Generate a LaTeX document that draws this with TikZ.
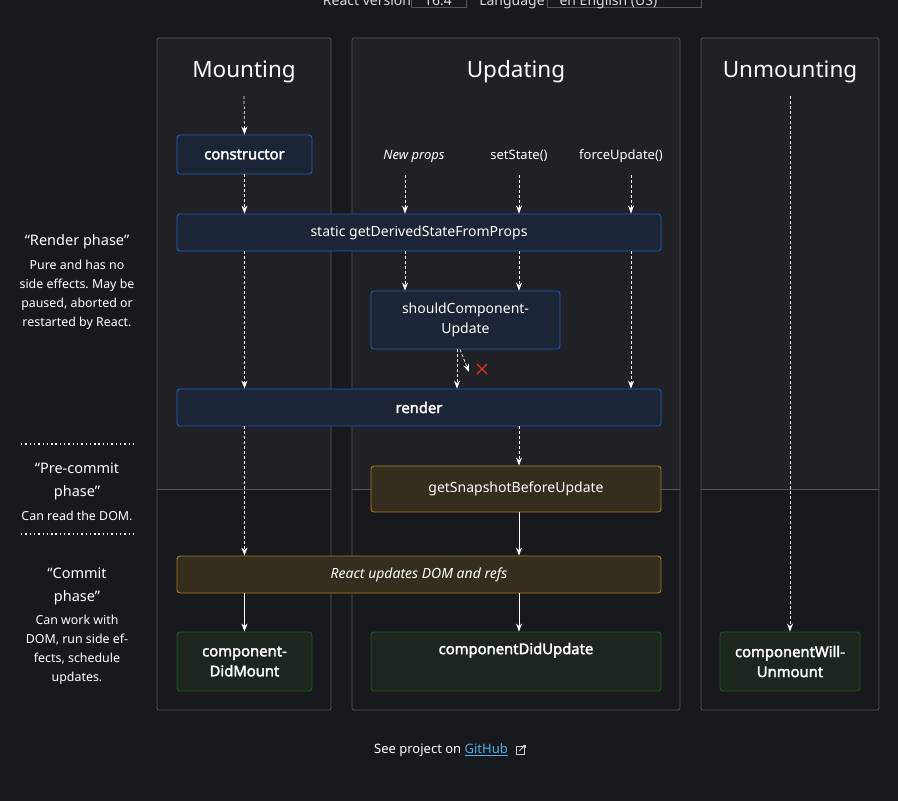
\documentclass[tikz,border=0pt]{standalone}
\usepackage{fontspec}
\setmainfont{Noto Sans}[AutoFakeBold=2.2]
\usetikzlibrary{arrows.meta}
\frenchspacing

\definecolor{pagebg}{HTML}{18191D}
\definecolor{panelbg}{HTML}{202126}
\definecolor{panelline}{HTML}{55565B}
\definecolor{fillblue}{HTML}{1B2536}
\definecolor{lineblue}{HTML}{1F5BB8}
\definecolor{fillbrown}{HTML}{352E1F}
\definecolor{linebrown}{HTML}{A67C1B}
\definecolor{fillgreen}{HTML}{1C261D}
\definecolor{linegreen}{HTML}{1D5A1D}
\definecolor{linkblue}{HTML}{4DB0E8}
\definecolor{crossred}{HTML}{E0321E}

\begin{document}
\begin{tikzpicture}[
  x=1pt, y=-1pt,
  >={Stealth[length=8pt,width=6pt]},
  text=white,
  font=\fontsize{14}{17}\selectfont,
  lifebox/.style={rounded corners=3pt, line width=0.9pt, inner sep=0pt, align=center},
  bluebox/.style={lifebox, fill=fillblue, draw=lineblue},
  brownbox/.style={lifebox, fill=fillbrown, draw=linebrown},
  greenbox/.style={lifebox, fill=fillgreen, draw=linegreen, font=\fontsize{14.8}{20}\selectfont\bfseries},
  coltitle/.style={font=\fontsize{22.5}{24}\selectfont},
  phasetitle/.style={align=center, font=\fontsize{14.5}{23}\selectfont},
  phasetext/.style={align=center, font=\fontsize{12.4}{19}\selectfont},
  flow/.style={->, white, dashed, dash pattern=on 3pt off 2pt, line width=0.7pt},
  firm/.style={->, white, line width=0.7pt},
  phasesep/.style={white, line width=1.4pt, dash pattern=on 1.4pt off 2.9pt}
]
  % Page
  \fill[pagebg] (0,0) rectangle (898,801);
  \useasboundingbox (0,0) rectangle (898,801);

  % Cut-off settings bar
  \begin{scope}
    \clip (0,0) rectangle (898,801);
    \node[anchor=base, text=white!85!black] (verlabel) at (367,5) {React version};
    \draw[panelline, line width=0.9pt] (411,-30) rectangle (466,7);
    \node[anchor=base, text=white!85!black] (vervalue) at (438,5) {16.4};
    \node[anchor=base, text=white!85!black] (langlabel) at (512,5) {Language};
    \draw[panelline, line width=0.9pt] (547,-30) rectangle (701,7);
    \node[anchor=base west, text=white!85!black] (langvalue) at (556,5) {en English (US)};
  \end{scope}

  % Columns
  \foreach \xa/\xb in {157/331, 352/680, 701/879} {
    \fill[panelbg, rounded corners=2pt] (\xa,38) -- (\xb,38) -- (\xb,489) -- (\xa,489) -- cycle;
    \draw[panelline, line width=0.8pt, rounded corners=2pt] (\xa,38) rectangle (\xb,710);
    \draw[panelline, line width=0.8pt] (\xa,489) -- (\xb,489);
  }
  \node[coltitle] (mounttitle) at (244,72) {Mounting};
  \node[coltitle] (updtitle) at (516,72) {Updating};
  \node[coltitle] (unmounttitle) at (790,72) {Unmounting};

  % Lifecycle methods
  \node[bluebox, minimum width=135, minimum height=39, font=\fontsize{14.8}{17}\selectfont\bfseries] (ctor) at (244.5,154.5) {constructor};
  \node[bluebox, minimum width=484, minimum height=37] (gdsfp) at (419,232.5) {static getDerivedStateFromProps};
  \node[bluebox, minimum width=189, minimum height=58, font=\fontsize{14}{20}\selectfont] (scu) at (465.5,320) {shouldComponent-\\Update};
  \node[bluebox, minimum width=484, minimum height=37, font=\fontsize{14.8}{17}\selectfont\bfseries] (render) at (419,407.5) {render};
  \node[brownbox, minimum width=290, minimum height=46] (gsbu) at (516,489) {getSnapshotBeforeUpdate};
  \node[brownbox, minimum width=484, minimum height=37, font=\fontsize{14}{17}\selectfont\itshape] (domrefs) at (419,574.5) {React updates DOM and refs};
  \node[greenbox, minimum width=135, minimum height=59] (cdm) at (244.5,661.5) {component-\\DidMount};
  \node[greenbox, minimum width=290, minimum height=59] (cdu) at (516,661.5) {componentDidUpdate\\\strut};
  \node[greenbox, minimum width=140, minimum height=59] (cwu) at (790,661.5) {componentWill-\\Unmount};

  % Update triggers
  \node[font=\fontsize{13}{17}\selectfont\itshape] (newprops) at (414,156) {New props};
  \node[font=\fontsize{13}{17}\selectfont] (setstate) at (519,156) {setState()};
  \node[font=\fontsize{13}{17}\selectfont] (forceupd) at (621,156) {forceUpdate()};
  \coordinate (mstart) at (244,96);
  \coordinate (ustart) at (790,96);
  \coordinate (npstart) at (405,175);
  \coordinate (ssstart) at (519,175);
  \coordinate (fustart) at (631,175);
  \coordinate (skipx) at (457,0);
  \coordinate (skipend) at (469,372);

  % Mounting flow
  \draw[flow] (mstart) -- (ctor.north);
  \draw[flow] (ctor.south) -- (ctor.south |- gdsfp.north);
  \draw[flow] (ctor.south |- gdsfp.south) -- (ctor.south |- render.north);
  \draw[flow] (ctor.south |- render.south) -- (ctor.south |- domrefs.north);
  \draw[firm] (ctor.south |- domrefs.south) -- (cdm.north);

  % Updating flow
  \draw[flow] (npstart) -- (npstart |- gdsfp.north);
  \draw[flow] (ssstart) -- (ssstart |- gdsfp.north);
  \draw[flow] (fustart) -- (fustart |- gdsfp.north);
  \draw[flow] (npstart |- gdsfp.south) -- (npstart |- scu.north);
  \draw[flow] (ssstart |- gdsfp.south) -- (ssstart |- scu.north);
  \draw[flow] (fustart |- gdsfp.south) -- (fustart |- render.north);
  \draw[flow] (skipx |- scu.south) -- (skipx |- render.north);
  \draw[flow] ([xshift=3pt]skipx |- scu.south) -- (skipend);
  \draw[crossred, line width=1.4pt] (477,364) -- (487,374) (487,364) -- (477,374);
  \draw[flow] (ssstart |- render.south) -- (ssstart |- gsbu.north);
  \draw[firm] (ssstart |- gsbu.south) -- (ssstart |- domrefs.north);
  \draw[firm] (ssstart |- domrefs.south) -- (ssstart |- cdu.north);

  % Unmounting flow
  \draw[flow] (ustart) -- (cwu.north);

  % Phases
  \node[phasetitle] (renderph) at (77,242) {“Render phase”};
  \node[phasetext] (renderdesc) at (77,294.5) {Pure and has no\\side effects. May be\\paused, aborted or\\restarted by React.};
  \draw[phasesep] (21,444) -- (137,444);
  \node[phasetitle] (precommitph) at (77,481) {“Pre-commit\\phase”};
  \node[phasetext] (precommitdesc) at (77,516) {Can read the DOM.};
  \draw[phasesep] (21,534) -- (137,534);
  \node[phasetitle] (commitph) at (77,586.5) {“Commit\\phase”};
  \node[phasetext] (commitdesc) at (77,649.5) {Can work with\\DOM, run side ef-\\fects, schedule\\updates.};

  % Footer
  \node[font=\fontsize{13}{15}\selectfont] (footer) at (441,750) {See project on \textcolor{linkblue}{\underline{GitHub}}};
  \draw[white!80!black, line width=0.9pt] ([xshift=5pt,yshift=-4pt]footer.east) rectangle ([xshift=13pt,yshift=4pt]footer.east);
  \draw[white!80!black, line width=0.9pt, -{Straight Barb[length=2pt]}] ([xshift=8pt,yshift=-1pt]footer.east) -- ([xshift=14.5pt,yshift=5.5pt]footer.east);
\end{tikzpicture}
\end{document}
